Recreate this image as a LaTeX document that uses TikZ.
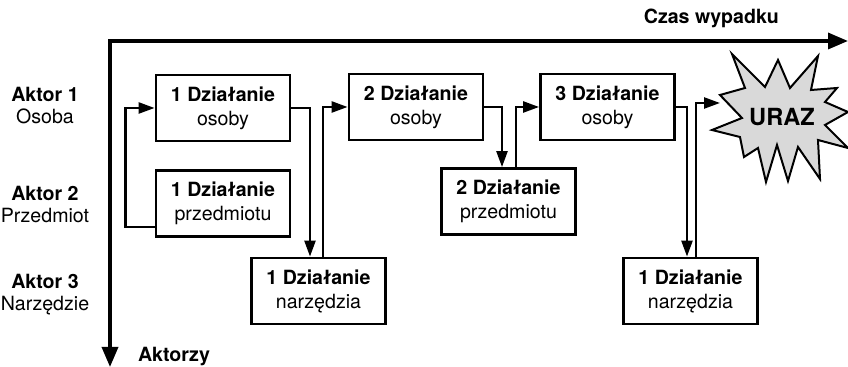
\documentclass[tikz,border=0pt]{standalone}
\usepackage{fontspec}
\setmainfont{TeX Gyre Heros}
\usetikzlibrary{arrows.meta}

\begin{document}
\begin{tikzpicture}[x=0.5pt,y=-0.5pt,
		box/.style={draw,line width=1.4pt,minimum width=67pt,minimum height=33pt,
			align=center,inner sep=1pt,font=\fontsize{9.8}{12}\selectfont},
		flow/.style={line width=1.2pt,-{Triangle[length=8pt,width=5.5pt]}},
		actor/.style={align=center,font=\fontsize{9.8}{11}\selectfont}]
		\useasboundingbox (0,0) rectangle (848,367);
		% axes: time to the right, actors downwards
		\coordinate (origin) at (110,41);
		\coordinate (time end) at (848,41);
		\coordinate (actor end) at (110,367);
		\draw[line width=1.7pt,{Triangle[length=10pt,width=8pt]}-{Triangle[length=10pt,width=8pt]}]
			(actor end) -- (origin) -- (time end);
		\node[anchor=east,font=\bfseries\fontsize{9.8}{11}\selectfont] (time) at (786,18) {Czas wypadku};
		\node[font=\bfseries\fontsize{9.8}{11}\selectfont] (actors) at (174,357) {Aktorzy};
		\node[actor] (actor1) at (45,106) {\textbf{Aktor 1}\\Osoba};
		\node[actor] (actor2) at (45,205) {\textbf{Aktor 2}\\Przedmiot};
		\node[actor] (actor3) at (45,295) {\textbf{Aktor 3}\\Narzędzie};
		% actions
		\node[box] (b1) at (223,108) {\textbf{1 Działanie}\\osoby};
		\node[box] (b2) at (223,203.5) {\textbf{1 Działanie}\\przedmiotu};
		\node[box] (b3) at (318.5,291) {\textbf{1 Działanie}\\narzędzia};
		\node[box] (b4) at (416,107) {\textbf{2 Działanie}\\osoby};
		\node[box] (b5) at (508.5,201.5) {\textbf{2 Działanie}\\przedmiotu};
		\node[box] (b6) at (607.5,107) {\textbf{3 Działanie}\\osoby};
		\node[box] (b7) at (690.5,291) {\textbf{1 Działanie}\\narzędzia};
		% injury
		\draw[fill=black!15,line width=1pt] (720,95) -- (745,88) -- (732,54) -- (765,87)
			-- (778,60) -- (790,88) -- (818,56) -- (811,90) -- (837,88) -- (825,102)
			-- (848,112) -- (825,125) -- (848,148) -- (818,140) -- (820,179) -- (798,147)
			-- (788,181) -- (777,145) -- (766,182) -- (758,148) -- (744,157) -- (740,137)
			-- (712,130) -- (742,118) -- cycle;
		\node[font=\bfseries\fontsize{11.8}{12}\selectfont] (uraz) at (782,117) {URAZ};
		\coordinate (hit) at (720,103);
		% connections
		\draw[flow] ([yshift=-11.75pt]b2.west) -- ++(-29,0) |- (b1.west);
		\draw[flow] (b1.east) -| ([xshift=-4.25pt]b3.north);
		\draw[flow] ([xshift=2.25pt]b3.north) |- (b4.west);
		\draw[flow] (b4.east) -| ([xshift=-3.25pt]b5.north);
		\draw[flow] ([xshift=3.75pt]b5.north) |- (b6.west);
		\draw[flow] (b6.east) -| ([xshift=-1.75pt]b7.north);
		\draw[flow] ([xshift=2.75pt]b7.north) |- (hit);
	\end{tikzpicture}
\end{document}
